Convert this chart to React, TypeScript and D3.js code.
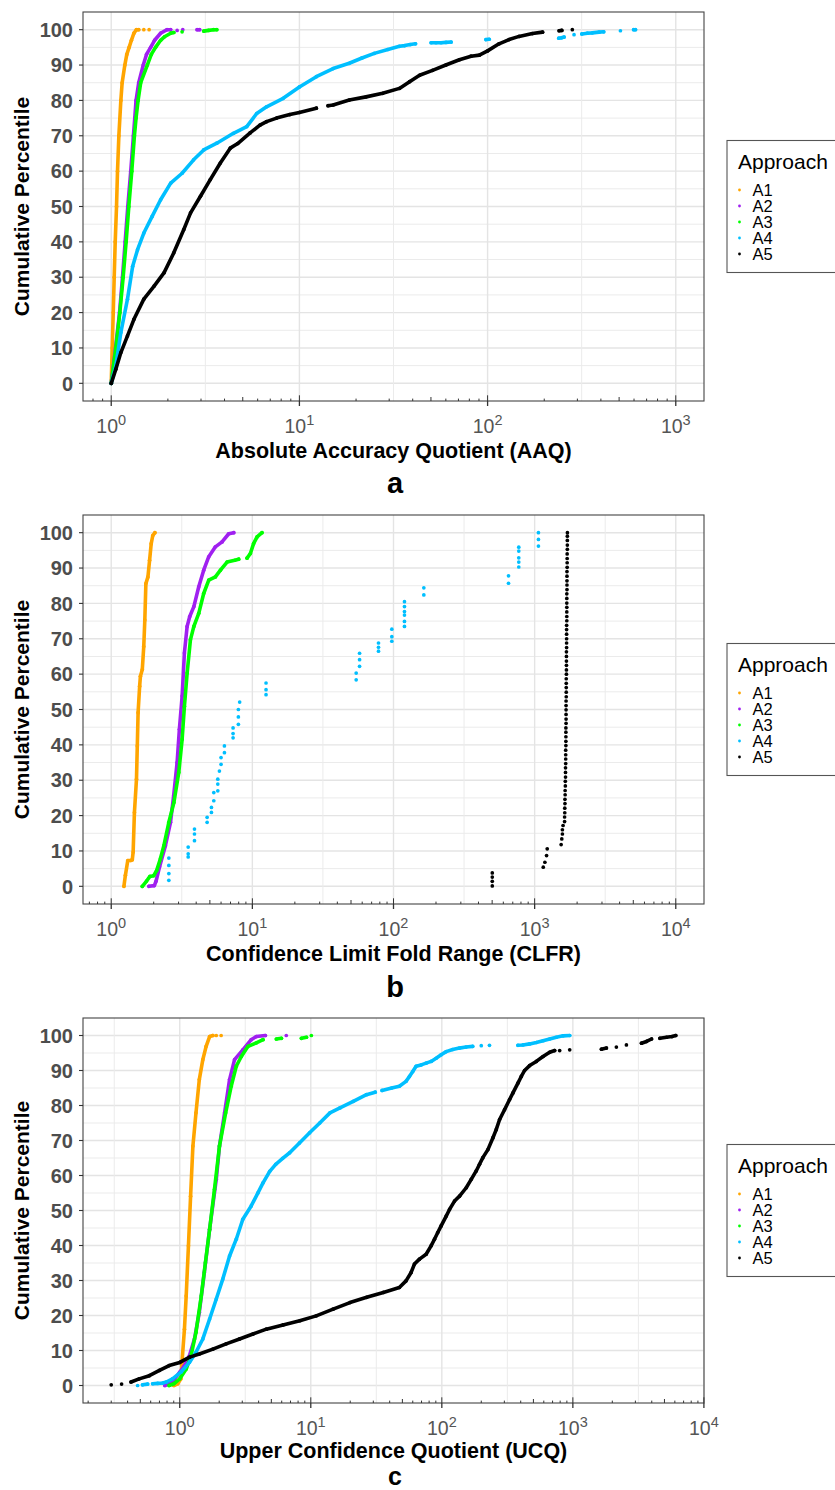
import React, { useRef, useEffect } from "react";
import * as d3 from "d3";

type Pt = [number, number];

const approaches = ["A1", "A2", "A3", "A4", "A5"];
const approachColors = ["#FFA500", "#A020F0", "#00FF00", "#00BFFF", "#000000"];
const percentileTicks = [0, 10, 20, 30, 40, 50, 60, 70, 80, 90, 100];
const panelLetters = ["a", "b", "c"];
const axisTitles = [
  "Absolute Accuracy Quotient (AAQ)",
  "Confidence Limit Fold Range (CLFR)",
  "Upper Confidence Quotient (UCQ)",
];
// x limits set on the first two panels, the third follows its data
const xLimits: (number[] | null)[] = [[1, 1000], [1, 10000], null];
// A4 and A5 in panel b are few, separate points
const tracedSeries = [
  [true, true, true, true, true],
  [true, true, true, false, false],
  [true, true, true, true, true],
];

// each series is a list of runs of [value, cumulative percentile]

// panel a, AAQ
const aaqA1: Pt[][] = [
  [[1, 0], [1.012, 10], [1.025, 20], [1.037, 30], [1.05, 40], [1.067, 50], [1.08, 60], [1.098, 70], [1.125, 80], [1.143, 85], [1.181, 90], [1.21, 93], [1.245, 95], [1.28, 97], [1.32, 99], [1.36, 100], [1.4, 100]],
  [[1.49, 100]],
  [[1.59, 100]],
];
const aaqA2: Pt[][] = [
  [[1, 0], [1.054, 10], [1.107, 20], [1.148, 30], [1.186, 40], [1.225, 50], [1.27, 60], [1.312, 70], [1.334, 75], [1.355, 80], [1.4, 85], [1.48, 90], [1.54, 93], [1.62, 95], [1.7, 97], [1.83, 99], [1.98, 100], [2.07, 100]],
  [[2.24, 99.8]],
  [[2.4, 100]],
  [[2.86, 100], [2.95, 100]],
];
const aaqA3: Pt[][] = [
  [[1, 0], [1.058, 10], [1.111, 20], [1.157, 30], [1.2, 40], [1.24, 50], [1.286, 60], [1.328, 70], [1.355, 75], [1.389, 80], [1.434, 85], [1.555, 90], [1.633, 93], [1.72, 95], [1.83, 97], [1.92, 98], [2.07, 99], [2.15, 99.2]],
  [[2.38, 99.4]],
  [[3.1, 99.6], [3.29, 99.8], [3.5, 100], [3.64, 100]],
];
const aaqA4: Pt[][] = [
  [[1, 0], [1.058, 5], [1.125, 14.4], [1.22, 23.8], [1.3, 33.1], [1.38, 37.8], [1.49, 42.5], [1.65, 47.2], [1.83, 51.9], [2.07, 56.6], [2.38, 59.4], [2.74, 63.2], [3.1, 66], [3.64, 67.9], [4.46, 70.7], [5.25, 72.6], [5.93, 76.3], [6.69, 78.2], [8.2, 80.6], [10, 83.8], [12.3, 86.7], [15.1, 89], [18.4, 90.5], [21.5, 92], [25, 93.3], [29.5, 94.4], [34, 95.3], [36.3, 95.5], [38.8, 95.8], [41.4, 96]],
  [[50.1, 96.3], [53.2, 96.3], [56.6, 96.3], [60.1, 96.4], [64, 96.5]],
  [[98, 97.2], [102, 97.3]],
  [[239, 97.6], [247, 97.7], [255, 97.9]],
  [[288, 98.6]],
  [[317, 98.8], [339, 99], [360, 99.1], [391, 99.3], [414, 99.4]],
  [[508, 99.7]],
  [[597, 100], [611, 100]],
];
const aaqA5: Pt[][] = [
  [[1, 0], [1.058, 4], [1.125, 8.7], [1.22, 13.4], [1.32, 18.1], [1.49, 23.8], [1.69, 27.5], [1.91, 31.3], [2.15, 36.9], [2.43, 43.5], [2.64, 48.2], [2.98, 52.9], [3.36, 57.6], [3.8, 62.3], [4.29, 66.5], [4.7, 67.8], [5.47, 70.8], [6.17, 73], [6.69, 74], [7.56, 75], [8.89, 76], [10, 76.6], [12.3, 77.8]],
  [[14.2, 78.5], [15.1, 78.7], [18.4, 80.1], [22.6, 81], [27.7, 82], [34, 83.4], [38.5, 85.3], [43.5, 87.1], [51, 88.5], [60, 90], [70.8, 91.5], [81.7, 92.5], [90.4, 92.8], [100, 94], [115, 96], [130, 97.2], [147, 98.1], [173, 98.9], [196, 99.3]],
  [[240, 99.7], [248, 99.8]],
  [[282, 100]],
];

// panel b, CLFR
const clfrA1: Pt[][] = [
  [[1.23, 0], [1.26, 3.1], [1.31, 7.3], [1.37, 7.3], [1.41, 7.5], [1.43, 9.7], [1.46, 20.9], [1.51, 30.3], [1.53, 39.7], [1.55, 49.1], [1.59, 56.6], [1.61, 59.4], [1.66, 61.3], [1.7, 67.8], [1.73, 75.3], [1.76, 85.6], [1.82, 87.5], [1.87, 92.2], [1.92, 96.9], [1.97, 99.2], [2.04, 100]],
];
const clfrA2: Pt[][] = [
  [[1.85, 0], [2.02, 0.2], [2.08, 1.5], [2.2, 5.5], [2.42, 11.5], [2.63, 18.1], [2.77, 25.6], [2.93, 35], [3.04, 44.4], [3.18, 53.8], [3.3, 66], [3.45, 73.5], [3.6, 76.3], [3.85, 79.1], [4.17, 84.7], [4.52, 89.4], [4.91, 93.2], [5.47, 96], [6.1, 97.4], [6.8, 99.7], [7.38, 100]],
];
const clfrA3: Pt[][] = [
  [[1.66, 0], [1.78, 1.5], [1.88, 2.8], [2, 3], [2.1, 4.5], [2.23, 7.8], [2.36, 11.5], [2.56, 18.1], [2.78, 23.7], [3.01, 32.2], [3.18, 41.6], [3.3, 50.9], [3.45, 60.3], [3.64, 69.7], [3.85, 73.5], [4.17, 77.2], [4.52, 82.8], [4.91, 86.6], [5.47, 87.5], [5.94, 89.4], [6.62, 91.7], [7.5, 92.2], [8, 92.5]],
  [[9.17, 92.8], [9.68, 94.1], [10.2, 96.9], [10.8, 98.8], [11.7, 100]],
];
const clfrA4: Pt[][] = [
  [[2.56, 1.7], [2.56, 3.6], [2.56, 5.9], [2.56, 8], [3.51, 8.3], [3.51, 9.2], [3.51, 11.1], [3.89, 12.9], [3.89, 14.8], [3.89, 16.2], [4.78, 18.1], [4.78, 19.5], [5.13, 20.9], [5.13, 22.3], [5.33, 24.2], [5.33, 26.5], [5.69, 27], [5.69, 28.9], [5.69, 30.3], [5.84, 32.6], [6, 34.5], [6, 36.4], [6.34, 37.8], [6.34, 39.7], [7.3, 42], [7.3, 43.2], [7.3, 44.8], [7.96, 45.8], [7.96, 47.9], [7.96, 50], [8.13, 52.1], [12.5, 54.2], [12.5, 55.6], [12.5, 57.5], [54.4, 58.4], [54.4, 60.3], [57.5, 62.2], [57.5, 64.1], [57.5, 65.9], [78.3, 66.5], [78.3, 67.6], [78.3, 68.8], [97.3, 69.3], [97.3, 70.6], [97.3, 72.7], [119.6, 73.5], [119.6, 74.9], [119.6, 76.7], [119.6, 77.7], [119.6, 79.1], [119.6, 80.5], [164, 82.4], [164, 84.4], [653, 85.7], [653, 87.8], [772, 90.3], [772, 91.7], [772, 92.9], [772, 94.8], [772, 95.9], [1064, 96.2], [1064, 98.1], [1064, 100]],
];
const clfrA5: Pt[][] = [
  [[501, 0.1], [501, 1.4], [501, 2.6], [501, 3.8], [1151, 5.4], [1182, 6.8], [1215, 8.7], [1228, 10.6], [1541, 11.8], [1557, 13.4], [1573, 14.8], [1573, 16], [1590, 17.2], [1630, 18.3], [1630, 19.6], [1635, 20.8], [1635, 22.1], [1640, 23.4], [1640, 24.6], [1645, 25.9], [1645, 27.1], [1650, 28.4], [1650, 29.7], [1655, 30.9], [1655, 32.2], [1655, 33.5], [1660, 34.7], [1660, 36], [1660, 37.2], [1660, 38.5], [1665, 39.8], [1665, 41], [1665, 42.3], [1665, 43.6], [1665, 44.8], [1670, 46.1], [1670, 47.3], [1670, 48.6], [1670, 49.9], [1670, 51.1], [1670, 52.4], [1675, 53.6], [1675, 54.9], [1675, 56.2], [1675, 57.4], [1675, 58.7], [1680, 60], [1680, 61.2], [1680, 62.5], [1680, 63.7], [1680, 65], [1680, 66.3], [1685, 67.5], [1685, 68.8], [1685, 70], [1685, 71.3], [1685, 72.6], [1685, 73.8], [1690, 75.1], [1690, 76.3], [1690, 77.6], [1690, 78.9], [1690, 80.1], [1690, 81.4], [1690, 82.7], [1695, 83.9], [1695, 85.2], [1695, 86.4], [1695, 87.7], [1695, 89], [1700, 90.2], [1700, 91.5], [1700, 92.7], [1700, 94], [1705, 95.3], [1705, 96.5], [1705, 97.8], [1705, 99], [1707, 100]],
];

// panel c, UCQ
const ucqA1: Pt[][] = [
  [[0.9, 0], [0.965, 0.5], [1.02, 1.9], [1.04, 6.6], [1.086, 16.1], [1.12, 25.6], [1.165, 39.9], [1.21, 54.1], [1.26, 68.4], [1.33, 77.9], [1.41, 87.4], [1.5, 93.1], [1.59, 96.9], [1.69, 99.7], [1.79, 100]],
  [[1.9, 100]],
  [[2.07, 100]],
];
const ucqA2: Pt[][] = [
  [[0.77, 0], [0.83, 0.5], [0.9, 1.5], [1, 3.8], [1.086, 5.7], [1.185, 8.5], [1.295, 13.3], [1.41, 20.9], [1.54, 32.3], [1.69, 44.6], [1.9, 58.9], [2.01, 68.4], [2.2, 77.9], [2.4, 87.4], [2.62, 93.1], [3.03, 95.9], [3.51, 98.8], [3.84, 99.7], [4.5, 100]],
  [[6.5, 100]],
];
const ucqA3: Pt[][] = [
  [[0.83, 0], [0.9, 0.5], [1, 1.9], [1.12, 4.7], [1.22, 8.5], [1.33, 15.2], [1.46, 25.6], [1.57, 35.1], [1.69, 44.6], [1.84, 56], [2.01, 68.4], [2.24, 77.9], [2.47, 85.5], [2.7, 91.2], [2.95, 94], [3.32, 96.9], [3.84, 97.9], [4.32, 98.8]],
  [[5.46, 99], [5.97, 99.2]],
  [[8.48, 99.2], [9.27, 99.5]],
  [[10.1, 100]],
];
const ucqA4: Pt[][] = [
  [[0.477, 0]],
  [[0.52, 0.2], [0.569, 0.4]],
  [[0.621, 0.5], [0.679, 0.6], [0.741, 0.7], [0.79, 1], [0.88, 1.9], [1.02, 3.8], [1.185, 6.6], [1.33, 9.5], [1.5, 13.3], [1.69, 19], [1.9, 24.7], [2.13, 30.4], [2.4, 37], [2.7, 41.8], [3.03, 47.5], [3.51, 51.3], [3.96, 55.1], [4.32, 57.9], [4.86, 61.2], [5.4, 63.2], [6.1, 64.9], [6.9, 66.5], [8.2, 69.3], [9.8, 72.2], [11.7, 75], [14, 77.9], [16.7, 79.3], [21.1, 81.2], [26.6, 83.1], [31, 83.8]],
  [[35, 84.3], [41.4, 85], [47.4, 85.5], [53.3, 86.9], [56.6, 88.3], [60, 89.7], [63.6, 91.2], [69.5, 91.6], [75.9, 92.1], [82.9, 92.6], [90.5, 93.5], [98.8, 94.5], [108, 95.4], [121, 96], [136, 96.4], [153, 96.7], [172, 96.9]],
  [[200, 97.1]],
  [[231, 97.2]],
  [[381, 97.2], [416, 97.3], [468, 97.6], [526, 98], [592, 98.5], [665, 99], [748, 99.5], [841, 99.9], [946, 100]],
];
const ucqA5: Pt[][] = [
  [[0.3, 0.2]],
  [[0.36, 0.4]],
  [[0.425, 1], [0.49, 1.9], [0.586, 2.8], [0.7, 4.3], [0.83, 5.7], [1, 6.6], [1.19, 8.1], [1.41, 9], [1.79, 10.4], [2.26, 11.9], [2.86, 13.3], [3.62, 14.7], [4.58, 16.1], [6.14, 17.3], [8.24, 18.5], [11, 19.9], [14.8, 21.8], [19.9, 23.7], [26.7, 25.2], [35.8, 26.6], [47.4, 28], [53.3, 29.9], [58.3, 32.3], [61.8, 34.7], [67.5, 36.1], [75.9, 37.5], [82.8, 39.9], [87.9, 41.8], [93.1, 43.7], [98.8, 45.6], [108, 48.4], [114.5, 50.3], [125, 52.7], [136.5, 54.1], [153.5, 56.5], [167.6, 58.9], [183, 61.3], [194, 63.2], [205.6, 65.1], [224.7, 67.4], [245.6, 70.8], [260, 73.1], [276, 76], [301, 78.8], [329, 81.7], [349, 83.6], [381, 86.4], [404, 88.3], [428, 90], [468, 91.4], [526, 92.6], [592, 94], [665, 95.2], [726, 95.7]],
  [[793, 95.7]],
  [[946, 95.9]],
  [[1652, 96.1], [1803, 96.4]],
  [[2148, 96.7]],
  [[2563, 97.3]],
  [[3340, 97.8], [3648, 98.3], [3985, 99]],
  [[4613, 99.2], [5187, 99.5], [5700, 99.7], [6100, 100]],
];

const panelSeries = [
  [aaqA1, aaqA2, aaqA3, aaqA4, aaqA5],
  [clfrA1, clfrA2, clfrA3, clfrA4, clfrA5],
  [ucqA1, ucqA2, ucqA3, ucqA4, ucqA5],
];

const FONT = "'Liberation Sans', Arial, Helvetica, sans-serif";

const App = () => {
  const svgRef = useRef<SVGSVGElement>(null);

  useEffect(() => {
    const width = 835;
    const height = 1490;
    const svg = d3.select(svgRef.current).attr("width", width).attr("height", height);
    svg.selectAll("*").remove();

    const left = 83;
    const right = 704;
    // the last panel sits against the bottom edge, so its title and letter are packed tighter
    const frames = [
      { top: 12, bottom: 401, titleY: 458, letterY: 493, letterSize: 29 },
      { top: 515, bottom: 904, titleY: 961, letterY: 997, letterSize: 29 },
      { top: 1018, bottom: 1403, titleY: 1457.5, letterY: 1484.5, letterSize: 25 },
    ];

    panelSeries.forEach((series, pi) => {
      const { top, bottom, titleY, letterY, letterSize } = frames[pi];
      const g = svg.append("g");

      // log domain: fixed limits or the data range, both padded by 5%
      let lo: number, hi: number;
      const lim = xLimits[pi];
      if (lim) {
        lo = Math.log10(lim[0]);
        hi = Math.log10(lim[1]);
      } else {
        const all = series.flat(2).map((p) => Math.log10(p[0]));
        [lo, hi] = d3.extent(all) as [number, number];
      }
      const pad = (hi - lo) * 0.05;
      const x = d3.scaleLog().domain([10 ** (lo - pad), 10 ** (hi + pad)]).range([left, right]);
      const y = d3.scaleLinear().domain([-5, 105]).range([bottom, top]);
      const dLo = Math.ceil(lo - pad);
      const dHi = Math.floor(hi + pad);
      const decades = d3.range(dLo, dHi + 1);
      const halfDecades = d3.range(Math.floor(lo - pad), dHi + 1)
        .map((d) => d + 0.5)
        .filter((d) => d > lo - pad && d < hi + pad);

      g.append("rect")
        .attr("x", left).attr("y", top)
        .attr("width", right - left).attr("height", bottom - top)
        .attr("fill", "#fff");

      // grid
      g.selectAll("line.hminor")
        .data(d3.range(5, 100, 10))
        .join("line")
        .attr("x1", left).attr("x2", right)
        .attr("y1", (d) => y(d)).attr("y2", (d) => y(d))
        .attr("stroke", "#EBEBEB").attr("stroke-width", 1);
      g.selectAll("line.hmajor")
        .data(percentileTicks)
        .join("line")
        .attr("x1", left).attr("x2", right)
        .attr("y1", (d) => y(d)).attr("y2", (d) => y(d))
        .attr("stroke", "#E4E4E4").attr("stroke-width", 1.4);
      g.selectAll("line.vminor")
        .data(halfDecades)
        .join("line")
        .attr("x1", (d) => x(10 ** d)).attr("x2", (d) => x(10 ** d))
        .attr("y1", top).attr("y2", bottom)
        .attr("stroke", "#EBEBEB").attr("stroke-width", 1);
      g.selectAll("line.vmajor")
        .data(decades)
        .join("line")
        .attr("x1", (d) => x(10 ** d)).attr("x2", (d) => x(10 ** d))
        .attr("y1", top).attr("y2", bottom)
        .attr("stroke", "#E4E4E4").attr("stroke-width", 1.4);

      // points, dense runs traced with a stroke as wide as a point
      const line = d3.line<Pt>().x((p) => x(p[0])).y((p) => y(p[1]));
      series.forEach((runs, si) => {
        const color = approachColors[si];
        const sg = g.append("g");
        if (tracedSeries[pi][si]) {
          sg.selectAll("path")
            .data(runs.filter((r) => r.length > 1))
            .join("path")
            .attr("d", (r) => line(r))
            .attr("fill", "none")
            .attr("stroke", color)
            .attr("stroke-width", 3.6)
            .attr("stroke-linecap", "round")
            .attr("stroke-linejoin", "round");
        }
        sg.selectAll("circle")
          .data(runs.flat())
          .join("circle")
          .attr("cx", (p) => x(p[0]))
          .attr("cy", (p) => y(p[1]))
          .attr("r", 1.85)
          .attr("fill", color);
      });

      // border
      g.append("rect")
        .attr("x", left).attr("y", top)
        .attr("width", right - left).attr("height", bottom - top)
        .attr("fill", "none").attr("stroke", "#444").attr("stroke-width", 1.1);

      // y axis
      g.selectAll("line.ytick")
        .data(percentileTicks)
        .join("line")
        .attr("x1", left - 4).attr("x2", left)
        .attr("y1", (d) => y(d)).attr("y2", (d) => y(d))
        .attr("stroke", "#333").attr("stroke-width", 1.1);
      g.selectAll("text.ylab")
        .data(percentileTicks)
        .join("text")
        .attr("x", left - 10)
        .attr("y", (d) => y(d))
        .attr("dy", "0.36em")
        .attr("text-anchor", "end")
        .attr("fill", "#4D4D4D")
        .style("font-size", "20px")
        .style("font-weight", "bold")
        .text((d) => d);
      g.append("text")
        .attr("transform", `translate(28.5,${(top + bottom) / 2}) rotate(-90)`)
        .attr("text-anchor", "middle")
        .attr("fill", "#000")
        .style("font-size", "21px")
        .style("font-weight", "bold")
        .text("Cumulative Percentile");

      // log ticks along the bottom
      const logTicks: { v: number; k: number }[] = [];
      d3.range(Math.floor(lo - pad), dHi + 1).forEach((d) => {
        d3.range(1, 10).forEach((k) => {
          const v = k * 10 ** d;
          if (v > 10 ** (lo - pad) && v < 10 ** (hi + pad)) logTicks.push({ v, k });
        });
      });
      g.selectAll("line.logtick")
        .data(logTicks)
        .join("line")
        .attr("x1", (d) => x(d.v)).attr("x2", (d) => x(d.v))
        .attr("y1", bottom)
        .attr("y2", (d) => bottom - (d.k === 1 ? 5.7 : d.k === 5 ? 4 : 2.4))
        .attr("stroke", "#333").attr("stroke-width", 1);
      g.selectAll("line.xtick")
        .data(decades)
        .join("line")
        .attr("x1", (d) => x(10 ** d)).attr("x2", (d) => x(10 ** d))
        .attr("y1", bottom).attr("y2", bottom + 5)
        .attr("stroke", "#333").attr("stroke-width", 1.3);

      decades.forEach((d) => {
        const t = g.append("text")
          .attr("x", x(10 ** d))
          .attr("y", bottom + 32)
          .attr("text-anchor", "middle")
          .attr("fill", "#555")
          .style("font-size", "19.5px");
        t.append("tspan").text("10");
        t.append("tspan").attr("dy", -8.5).style("font-size", "14.5px").text(String(d));
      });

      g.append("text")
        .attr("x", (left + right) / 2)
        .attr("y", titleY)
        .attr("text-anchor", "middle")
        .attr("fill", "#000")
        .style("font-size", "21.5px")
        .style("font-weight", "bold")
        .text(axisTitles[pi]);

      g.append("text")
        .attr("x", 395)
        .attr("y", letterY)
        .attr("text-anchor", "middle")
        .attr("fill", "#000")
        .style("font-size", `${letterSize}px`)
        .style("font-weight", "bold")
        .text(panelLetters[pi]);

      // legend
      const mid = (top + bottom) / 2;
      const lg = g.append("g");
      lg.append("rect")
        .attr("x", 727).attr("y", mid - 66)
        .attr("width", 130).attr("height", 132)
        .attr("fill", "#fff").attr("stroke", "#555").attr("stroke-width", 1.1);
      lg.append("text")
        .attr("x", 738).attr("y", mid - 38)
        .attr("fill", "#000")
        .style("font-size", "21px")
        .text("Approach");
      approaches.forEach((name, i) => {
        const cy = mid - 16.5 + i * 16;
        lg.append("circle").attr("cx", 739.5).attr("cy", cy).attr("r", 1.4).attr("fill", approachColors[i]);
        lg.append("text")
          .attr("x", 752.5).attr("y", cy)
          .attr("dy", "0.36em")
          .attr("fill", "#000")
          .style("font-size", "16.5px")
          .text(name);
      });
    });
  }, []);

  return (
    <svg
      ref={svgRef}
      style={{ position: "absolute", left: 0, top: 0, fontFamily: FONT, background: "#fff" }}
    ></svg>
  );
};

export default App;
